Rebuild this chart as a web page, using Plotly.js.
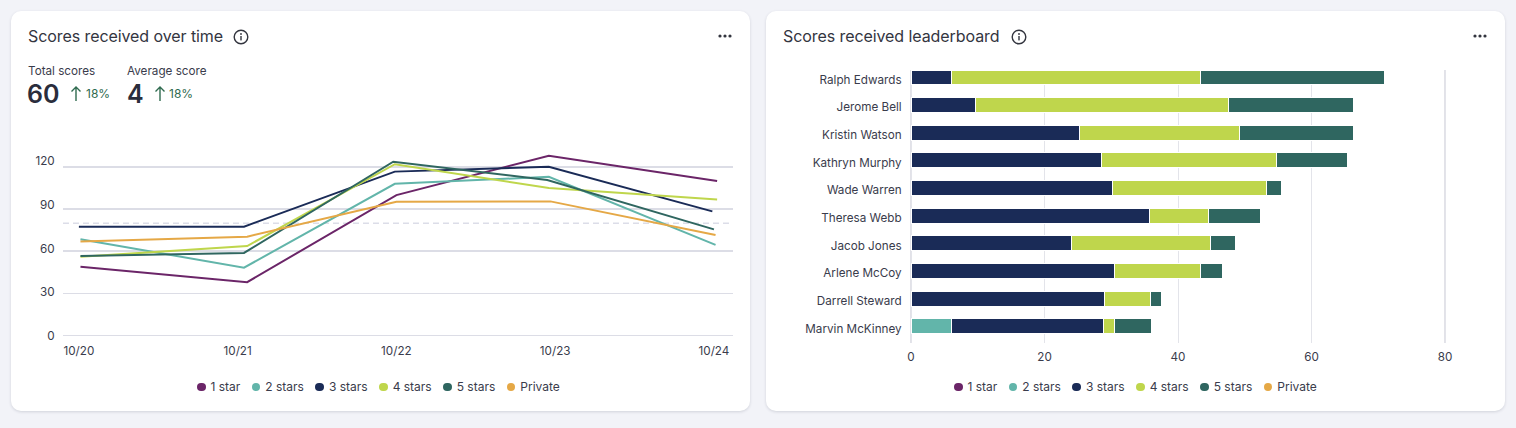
<!DOCTYPE html>
<html><head><meta charset="utf-8">
<script src="https://cdn.plot.ly/plotly-3.0.1.min.js"></script>
<style>
html,body{margin:0;padding:0;width:1516px;height:428px;overflow:hidden;background:#f2f3f8;font-family:Inter,sans-serif;color:#2d2f3e}
.card{position:absolute;top:11px;width:739px;height:400px;background:#fff;border-radius:10px;box-shadow:0 1px 3px rgba(40,45,70,.16)}
.plot{position:absolute;left:0;top:0;width:739px;height:400px}
.title{position:absolute;left:17px;top:15px;font-size:16px;letter-spacing:-.08px;line-height:20px;color:#33353f;white-space:nowrap}
.info{position:absolute;top:17.5px}
.more{position:absolute;top:22px;left:707px}
.lbl{position:absolute;top:52px;font-size:11.7px;line-height:16px;color:#3a3c4c;white-space:nowrap}
.num{position:absolute;top:66px;font-size:25px;line-height:34px;font-weight:600;color:#2a2d3c;white-space:nowrap}
.delta{position:absolute;top:75px;font-size:12px;line-height:16px;color:#2f6b4f;white-space:nowrap}
.arrow{position:absolute;top:74px}
.legend{position:absolute;top:368px;display:flex;gap:11.5px;font-size:12px;line-height:16px;color:#3a3c4c;white-space:nowrap}
.legend span{display:flex;align-items:center;gap:5px}
.legend i{display:block;width:8.5px;height:8.5px;border-radius:50%}
</style></head><body>
<div class="card" style="left:11px">
  <div class="plot" id="linePlot"></div>
  <div class="title">Scores received over time</div>
  <svg class="info" style="left:222px" width="16" height="16" viewBox="0 0 16 16"><circle cx="8" cy="8" r="6.8" fill="none" stroke="#33353f" stroke-width="1.4"/><rect x="7.3" y="7" width="1.4" height="4.4" fill="#33353f"/><circle cx="8" cy="5" r=".9" fill="#33353f"/></svg>
  <svg class="more" width="14" height="6" viewBox="0 0 14 6"><circle cx="2" cy="3" r="1.6" fill="#33353f"/><circle cx="7" cy="3" r="1.6" fill="#33353f"/><circle cx="12" cy="3" r="1.6" fill="#33353f"/></svg>
  <div class="lbl" style="left:17px">Total scores</div>
  <div class="num" style="left:16px">60</div>
  <svg class="arrow" style="left:59px" width="12" height="18" viewBox="0 0 12 18"><path d="M6 16V2M1.5 6.5L6 2l4.5 4.5" fill="none" stroke="#2f6b4f" stroke-width="1.4"/></svg>
  <div class="delta" style="left:75px">18%</div>
  <div class="lbl" style="left:116px">Average score</div>
  <div class="num" style="left:116px">4</div>
  <svg class="arrow" style="left:143px" width="12" height="18" viewBox="0 0 12 18"><path d="M6 16V2M1.5 6.5L6 2l4.5 4.5" fill="none" stroke="#2f6b4f" stroke-width="1.4"/></svg>
  <div class="delta" style="left:158px">18%</div>
  <div class="legend" id="legendA" style="left:186px"></div>
</div>
<div class="card" style="left:766px">
  <div class="plot" id="barPlot"></div>
  <div class="title">Scores received leaderboard</div>
  <svg class="info" style="left:245px" width="16" height="16" viewBox="0 0 16 16"><circle cx="8" cy="8" r="6.8" fill="none" stroke="#33353f" stroke-width="1.4"/><rect x="7.3" y="7" width="1.4" height="4.4" fill="#33353f"/><circle cx="8" cy="5" r=".9" fill="#33353f"/></svg>
  <svg class="more" width="14" height="6" viewBox="0 0 14 6"><circle cx="2" cy="3" r="1.6" fill="#33353f"/><circle cx="7" cy="3" r="1.6" fill="#33353f"/><circle cx="12" cy="3" r="1.6" fill="#33353f"/></svg>
  <div class="legend" id="legendB" style="left:188px"></div>
</div>
<script>
const seriesNames = ["1 star","2 stars","3 stars","4 stars","5 stars","Private"];
const seriesColors = ["#6b2568","#62b5aa","#1a2b57","#bfd64c","#2f6660","#e5a846"];

const dateLabels = ["10/20","10/21","10/22","10/23","10/24"];
const datePositions = [0,1,2,3,4];
const averageScoreLine = 80;

const lineX1 = [0.01,1.06,2.0,2.96,4.02];
const lineY1 = [49,38,100,128,110];
const lineX2 = [0.01,1.04,1.99,2.96,4.01];
const lineY2 = [68.5,48.3,108,113,64.5];
const lineX3 = [0.0,1.04,1.99,2.96,3.99];
const lineY3 = [77.5,77.5,116.7,120.2,88.4];
const lineX4 = [0.01,1.06,1.99,2.96,4.02];
const lineY4 = [56,63.7,122,105,96.8];
const lineX5 = [0.01,1.04,1.98,2.95,4.0];
const lineY5 = [56.6,58.8,123.8,110.7,75.6];
const lineXP = [0.01,1.06,2.0,2.97,4.01];
const lineYP = [67,70.4,95.3,95.5,71.6];

const people = ["Ralph Edwards","Jerome Bell","Kristin Watson","Kathryn Murphy","Wade Warren","Theresa Webb","Jacob Jones","Arlene McCoy","Darrell Steward","Marvin McKinney"];
const bar2 = [null,null,null,null,null,null,null,null,null,6];
const bar3 = [6.1,9.7,25.2,28.5,30.2,35.7,24,30.5,29,22.8];
const bar4 = [37.3,37.8,24,26.3,23.1,8.8,20.9,12.9,6.9,1.7];
const bar5 = [27.6,18.8,17.1,10.6,2.2,7.9,3.7,3.3,1.6,5.5];

const tickFont = {family:"Inter, sans-serif", size:11.7, color:"#3a3c4c"};
const gridA = "#dcdde6", gridB = "#e3e4ea";

const lineXs = [lineX1,lineX2,lineX3,lineX4,lineX5,lineXP];
const lineYs = [lineY1,lineY2,lineY3,lineY4,lineY5,lineYP];
const lineTraces = seriesNames.map((n,i)=>({type:"scatter",mode:"lines",name:n,x:lineXs[i],y:lineYs[i],
  line:{color:seriesColors[i],width:2},showlegend:false}));
lineTraces.push({type:"scatter",mode:"lines",x:[null],y:[null],yaxis:"y2",showlegend:false,hoverinfo:"skip"});

Plotly.newPlot("linePlot",lineTraces,{
  width:739,height:400,paper_bgcolor:"rgba(0,0,0,0)",plot_bgcolor:"rgba(0,0,0,0)",showlegend:false,
  margin:{l:52,r:17,t:139,b:74,pad:0},
  xaxis:{range:[-0.1,4.12],tickmode:"array",tickvals:datePositions,ticktext:dateLabels,showgrid:false,zeroline:false,showline:false,
    ticks:"outside",ticklen:3,tickcolor:"rgba(0,0,0,0)",tickfont:tickFont},
  yaxis:{range:[-1.07,132.1],tickmode:"array",tickvals:[0,30,60,90,120],showticklabels:false,showgrid:true,gridcolor:gridA,gridwidth:1.5,zeroline:false,showline:false,ticks:""},
  yaxis2:{overlaying:"y",side:"left",range:[-0.69,127.6],tickmode:"array",tickvals:[0,30,60,90,120],showgrid:false,zeroline:false,showline:false,
    ticks:"outside",ticklen:5,tickcolor:"rgba(0,0,0,0)",tickfont:tickFont},
  shapes:[{type:"line",xref:"paper",x0:0,x1:1,yref:"y",y0:averageScoreLine,y1:averageScoreLine,layer:"below",line:{color:"#dcdde8",width:1.5,dash:"6px,4px"}}]
},{displayModeBar:false,staticPlot:true});

const barVals = [bar2,bar3,bar4,bar5];
const barTraces = barVals.map((v,i)=>({type:"bar",orientation:"h",name:seriesNames[i+1],y:people,x:v,
  marker:{color:seriesColors[i+1],line:{color:"#ffffff",width:1}}}));

Plotly.newPlot("barPlot",barTraces,{
  width:739,height:400,paper_bgcolor:"rgba(0,0,0,0)",plot_bgcolor:"rgba(0,0,0,0)",showlegend:false,barmode:"stack",bargap:0.46,
  margin:{l:143,r:58,t:59,b:68,pad:0},
  xaxis:{range:[-0.3,80.3],tickmode:"array",tickvals:[0,20,40,60,80],showgrid:true,gridcolor:gridB,gridwidth:1,zeroline:false,showline:false,
    ticks:"outside",ticklen:3,tickcolor:"rgba(0,0,0,0)",tickfont:tickFont},
  yaxis:{type:"category",categoryorder:"array",categoryarray:people,range:[9.6,-0.27],showgrid:false,zeroline:false,showline:false,
    ticks:"outside",ticklen:4,tickcolor:"rgba(0,0,0,0)",tickfont:tickFont,ticklabelshift:-2},
  shapes:[0,80].map(v=>({type:"line",xref:"x",x0:v,x1:v,yref:"paper",y0:0,y1:1,layer:"below",line:{color:"#d8d9e0",width:1.5}}))
},{displayModeBar:false,staticPlot:true});

["legendA","legendB"].forEach(id=>{
  const el=document.getElementById(id);
  seriesNames.forEach((n,i)=>{
    const s=document.createElement("span");
    const d=document.createElement("i"); d.style.background=seriesColors[i];
    s.appendChild(d); s.appendChild(document.createTextNode(n)); el.appendChild(s);
  });
});
</script>
</body></html>
